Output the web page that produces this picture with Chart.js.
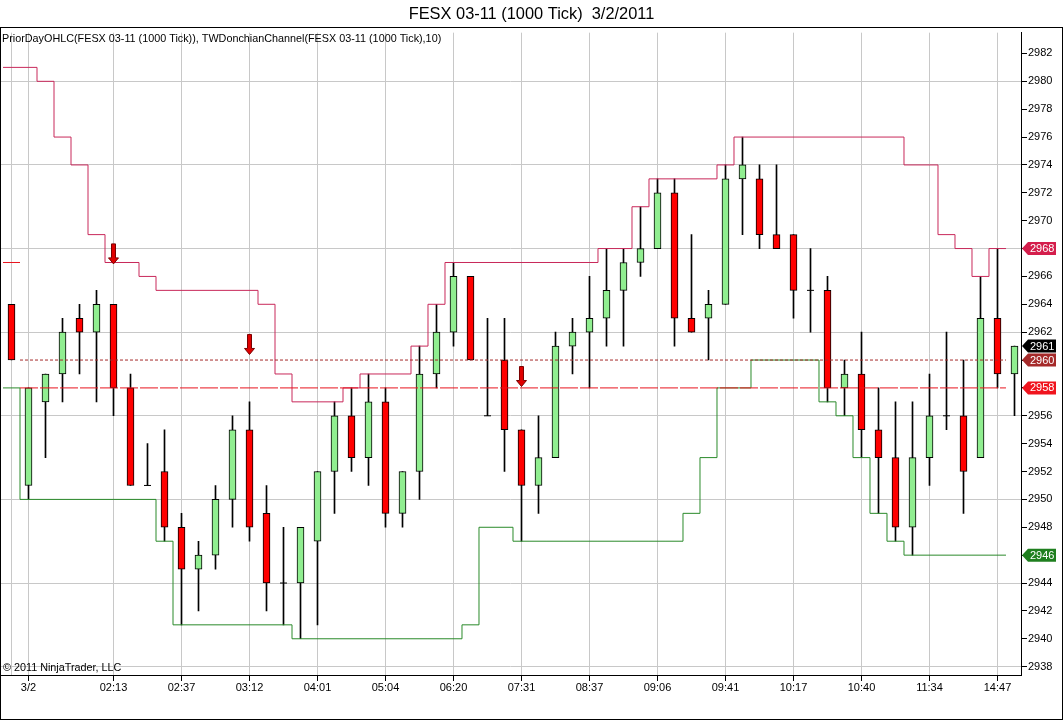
<!DOCTYPE html>
<html>
<head>
<meta charset="utf-8">
<script src="https://cdn.jsdelivr.net/npm/chart.js@4.4.1/dist/chart.umd.min.js"></script>
<style>
  html, body { margin: 0; padding: 0; background: #fff; }
  canvas { display: block; }
</style>
</head>
<body>
<canvas id="chart" width="1063" height="720"></canvas>
<script>
// bar data (1000 tick bars)
const opens  = [2964,2951,2957,2959,2963,2962,2964,2958,2951,2952,2948,2945,2946,2950,2955,2949,2944,2944,2947,2952,
                2956,2953,2957,2949,2952,2959,2962,2966,2956,2960,2955,2951,2953,2961,2962,2963,2965,2967,2968,2972,
                2963,2963,2964,2973,2973,2969,2969,2965,2965,2958,2959,2955,2953,2948,2953,2956,2956,2953,2963,2959];
const highs  = [2964,2958,2959,2963,2964,2965,2964,2959,2954,2955,2949,2947,2951,2956,2957,2951,2948,2948,2952,2957,
                2958,2959,2958,2952,2961,2964,2967,2966,2963,2963,2955,2956,2962,2963,2966,2968,2968,2971,2973,2973,
                2969,2965,2974,2976,2974,2974,2969,2968,2966,2960,2962,2958,2957,2957,2959,2962,2960,2966,2968,2961];
const lows   = [2960,2950,2953,2957,2959,2957,2956,2951,2951,2947,2941,2942,2945,2948,2947,2942,2941,2940,2941,2949,
                2952,2951,2948,2948,2950,2958,2961,2960,2956,2952,2947,2949,2953,2959,2958,2961,2961,2966,2968,2961,
                2962,2960,2964,2969,2968,2968,2963,2962,2957,2956,2953,2949,2947,2946,2951,2955,2949,2953,2958,2956];
const closes = [2960,2958,2959,2962,2962,2964,2958,2951,2951,2948,2945,2946,2950,2955,2948,2944,2944,2948,2952,2956,
                2953,2957,2949,2952,2959,2962,2966,2960,2956,2955,2951,2953,2961,2962,2963,2965,2967,2968,2972,2963,
                2962,2964,2973,2974,2969,2968,2965,2965,2958,2959,2955,2953,2948,2953,2956,2956,2952,2963,2959,2961];

// TWDonchianChannel(10) plotted values per bar (last bar not plotted)
const donchianUpper = [2981,2981,2980,2976,2974,2969,2967,2967,2966,2965,2965,2965,2965,2965,2965,2964,2959,2957,2957,2957,
                       2958,2959,2959,2959,2961,2964,2967,2967,2967,2967,2967,2967,2967,2967,2967,2968,2968,2971,2973,2973,
                       2973,2973,2974,2976,2976,2976,2976,2976,2976,2976,2976,2976,2976,2974,2974,2969,2968,2966,2968];
const donchianLower = [2958,2950,2950,2950,2950,2950,2950,2950,2950,2947,2941,2941,2941,2941,2941,2941,2941,2940,2940,2940,
                       2940,2940,2940,2940,2940,2940,2940,2941,2948,2948,2947,2947,2947,2947,2947,2947,2947,2947,2947,2947,
                       2949,2953,2958,2958,2960,2960,2960,2960,2957,2956,2953,2949,2947,2946,2946,2946,2946,2946,2946];

// PriorDayOHLC levels
const priorDayBar0 = 2967;
const priorDayDashed = 2960;
const priorDaySolid = 2958;
const priorDayStart = 1;

// x axis labels
const timeIdx    = [1,6,10,14,18,22,26,30,34,38,42,46,50,54,58];
const timeLabels = ['3/2','02:13','02:37','03:12','04:01','05:04','06:20','07:31','08:37','09:06','09:41','10:17','10:40','11:34','14:47'];

// y axis ticks
const yTicks = [];
for (let v = 2938; v <= 2982; v += 2) yTicks.push(v);

// signal arrows
const arrowBars = [6, 14, 30];
const arrowTips = [2966.9, 2960.4, 2958.1];

// price flags on the right axis
const flagValues = [2968, 2958, 2946, 2960, 2961];
const flagColors = ['#D41E4C', '#F0141E', '#1F7F1F', '#A52A2A', '#000000'];

const FONT = '"Liberation Sans", Arial, sans-serif';
Chart.defaults.font.family = FONT;
Chart.defaults.font.size = 11;
Chart.defaults.color = '#000';

const bodies = opens.map((o, i) => ({x: i, y: [Math.min(o, closes[i]), Math.max(o, closes[i])]}));
const bodyColors = opens.map((o, i) => closes[i] >= o ? '#90EE90' : '#FF0000');
const wicks = highs.map((h, i) => ({x: i, y: [lows[i], h]}));
const dojis = [];
opens.forEach((o, i) => { if (o === closes[i]) dojis.push({x: i, y: o}); });

function stepPoints(vals) {
  const pts = vals.map((v, i) => ({x: i - 0.5, y: v}));
  pts.push({x: vals.length - 0.5, y: vals[vals.length - 1]});
  return pts;
}
const lastPlotted = donchianUpper.length - 0.5;

const extras = {
  id: 'extras',
  beforeDraw(chart) {
    const c = chart.ctx;
    c.save();
    c.fillStyle = '#fff';
    c.fillRect(0, 0, chart.width, chart.height);
    c.restore();
  },
  afterDraw(chart) {
    const c = chart.ctx, xs = chart.scales.x, ys = chart.scales.y, area = chart.chartArea;
    c.save();
    // frame
    c.strokeStyle = '#000';
    c.lineWidth = 1;
    c.strokeRect(0.5, 27.5, chart.width - 1, chart.height - 28);

    // indicator caption and copyright
    c.fillStyle = '#000';
    c.font = '10.8px ' + FONT;
    c.textAlign = 'left';
    c.textBaseline = 'middle';
    c.fillText('PriorDayOHLC(FESX 03-11 (1000 Tick)), TWDonchianChannel(FESX 03-11 (1000 Tick),10)', 2, 39);
    c.fillText('\u00A9 2011 NinjaTrader, LLC', 3, 668);

    // arrows
    arrowBars.forEach((b, k) => {
      const x = xs.getPixelForValue(b);
      const y = ys.getPixelForValue(arrowTips[k]);
      c.beginPath();
      c.moveTo(x - 2, y - 20);
      c.lineTo(x + 2, y - 20);
      c.lineTo(x + 2, y - 6);
      c.lineTo(x + 5, y - 6);
      c.lineTo(x, y);
      c.lineTo(x - 5, y - 6);
      c.lineTo(x - 2, y - 6);
      c.closePath();
      c.fillStyle = '#E00000';
      c.fill();
      c.strokeStyle = '#7A0000';
      c.stroke();
    });

    // flags
    flagValues.forEach((v, k) => {
      const y = ys.getPixelForValue(v);
      const x0 = area.right + 1;
      c.beginPath();
      c.moveTo(x0, y);
      c.lineTo(x0 + 6, y - 6.5);
      c.lineTo(x0 + 34, y - 6.5);
      c.lineTo(x0 + 34, y + 6.5);
      c.lineTo(x0 + 6, y + 6.5);
      c.closePath();
      c.fillStyle = flagColors[k];
      c.fill();
      c.fillStyle = '#fff';
      c.font = '11px ' + FONT;
      c.textAlign = 'left';
      c.textBaseline = 'middle';
      c.fillText(String(v), x0 + 8, y + 0.5);
    });
    c.restore();
  }
};

new Chart(document.getElementById('chart'), {
  type: 'bar',
  data: {
    datasets: [
      { type: 'line', data: [{x: -0.5, y: priorDayBar0}, {x: 0.5, y: priorDayBar0}],
        borderColor: '#E8141E', borderWidth: 1, pointRadius: 0 },
      { type: 'line', data: [{x: priorDayStart - 0.5, y: priorDayDashed}, {x: lastPlotted, y: priorDayDashed}],
        borderColor: '#A52A2A', borderWidth: 1, borderDash: [3, 2], pointRadius: 0 },
      { type: 'line', data: [{x: priorDayStart - 0.5, y: priorDaySolid}, {x: lastPlotted, y: priorDaySolid}],
        borderColor: '#E8141E', borderWidth: 1, borderDash: [18, 2], pointRadius: 0 },
      { type: 'line', data: stepPoints(donchianUpper), stepped: 'before',
        borderColor: '#C8285A', borderWidth: 1, pointRadius: 0 },
      { type: 'line', data: stepPoints(donchianLower), stepped: 'before',
        borderColor: '#2A8A2A', borderWidth: 1, pointRadius: 0 },
      { type: 'line', data: dojis, showLine: false, pointStyle: 'line', pointRadius: 3.5,
        pointBorderColor: '#000', pointBorderWidth: 1 },
      { type: 'bar', data: bodies, backgroundColor: bodyColors, borderColor: '#000', borderWidth: 1,
        borderSkipped: false, barThickness: 7, grouped: false },
      { type: 'bar', data: wicks, backgroundColor: '#000', borderWidth: 0, barThickness: 1, grouped: false }
    ]
  },
  options: {
    responsive: false,
    animation: false,
    devicePixelRatio: 1,
    events: [],
    layout: { padding: 0, autoPadding: false },
    plugins: {
      legend: { display: false },
      tooltip: { enabled: false },
      title: {
        display: true,
        text: 'FESX 03-11 (1000 Tick)  3/2/2011',
        color: '#000',
        font: { size: 16.4, weight: 'normal' },
        padding: { top: 5, bottom: 8 }
      }
    },
    scales: {
      x: {
        type: 'linear',
        min: -0.6765,
        max: 59.3824,
        offset: false,
        afterBuildTicks: s => { s.ticks = [0].concat(timeIdx).map(v => ({value: v})); },
        afterFit: s => { s.height = 45; s.paddingLeft = 0; s.paddingRight = 0; },
        ticks: {
          autoSkip: false, maxRotation: 0, padding: 0,
          callback: v => { const k = timeIdx.indexOf(v); return k < 0 ? '' : timeLabels[k]; }
        },
        grid: {
          offset: false,
          color: '#C8C8C8',
          tickLength: 6,
          tickColor: ctx => (ctx.tick && ctx.tick.value === 0) ? 'rgba(0,0,0,0)' : '#000'
        },
        border: { color: '#000', width: 1 }
      },
      y: {
        position: 'right',
        min: 2937.40,
        max: 2983.49,
        beginAtZero: false,
        afterBuildTicks: s => { s.ticks = yTicks.map(v => ({value: v})); },
        afterFit: s => { s.width = 42; s.paddingLeft = 0; s.paddingRight = 0; },
        ticks: { padding: 1, callback: v => String(v) },
        grid: {
          color: ctx => (ctx.tick && (ctx.tick.value - 2938) % 6 === 0) ? '#C8C8C8' : 'rgba(0,0,0,0)',
          tickLength: 6,
          tickColor: '#000'
        },
        border: { color: '#000', width: 1 }
      }
    }
  },
  plugins: [extras]
});
</script>
</body>
</html>
